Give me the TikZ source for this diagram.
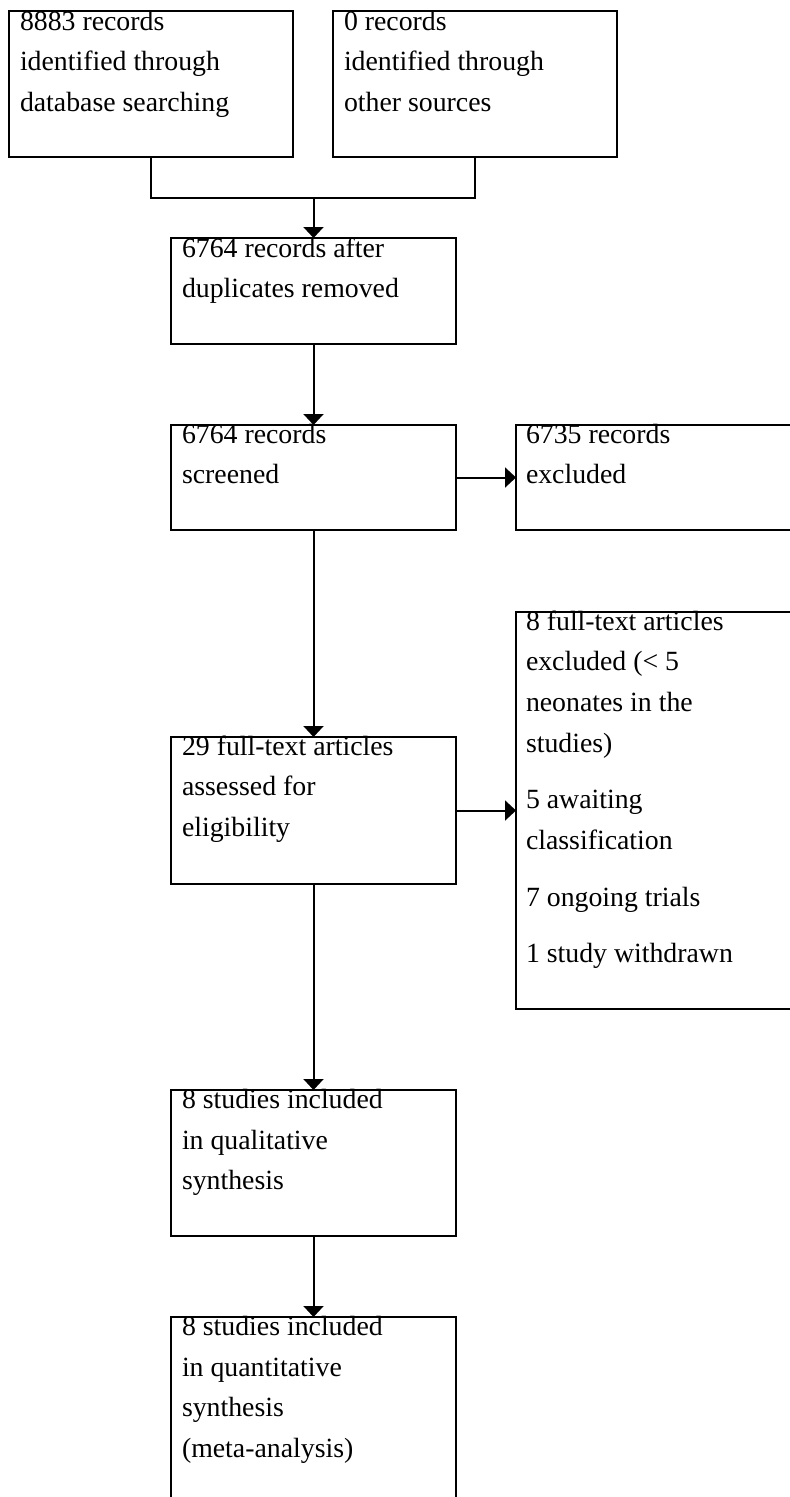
\documentclass[tikz,border=0pt]{standalone}
\usepackage{fontspec}
\setmainfont{Liberation Serif}
\usetikzlibrary{arrows.meta}
\tikzset{
  box/.style={draw, line width=1.6pt, inner sep=0pt, outer sep=0pt, rectangle},
  txt/.style={anchor=base west, inner sep=0pt, outer sep=0pt, font=\fontsize{27.8}{40.7}\selectfont},
  conn/.style={line width=2pt},
  arr/.style={line width=2pt, -{Triangle[length=11pt,width=20pt]}}
}
\newcommand{\lines}[1]{\begin{tabular}[t]{@{}l@{}}#1\end{tabular}}
\begin{document}
\begin{tikzpicture}[x=1pt,y=-1pt]
\useasboundingbox (0,0) rectangle (790,1497);
\clip (0,0) rectangle (790,1497);
% boxes
\node[box, minimum width=284pt, minimum height=146pt] (a) at (151,84) {};
\node[box, minimum width=284pt, minimum height=146pt] (b) at (475,84) {};
\node[box, minimum width=285pt, minimum height=106pt] (c) at (313.5,291) {};
\node[box, minimum width=285pt, minimum height=105pt] (d) at (313.5,477.5) {};
\node[box, minimum width=314pt, minimum height=105pt] (e) at (673,477.5) {};
\node[box, minimum width=285pt, minimum height=147pt] (f) at (313.5,810.5) {};
\node[box, minimum width=314pt, minimum height=397pt] (g) at (673,810.5) {};
\node[box, minimum width=285pt, minimum height=146pt] (h) at (313.5,1163) {};
\node[box, minimum width=285pt, minimum height=213pt] (i) at (313.5,1423.5) {};
% texts
\node[txt] (ta) at ([shift={(11,19)}]a.north west) {\lines{8883 records\\identified through\\database searching}};
\node[txt] (tb) at ([shift={(11,19)}]b.north west) {\lines{0 records\\identified through\\other sources}};
\node[txt] (tc) at ([shift={(11,19)}]c.north west) {\lines{6764 records after\\duplicates removed}};
\node[txt] (td) at ([shift={(11,18)}]d.north west) {\lines{6764 records\\screened}};
\node[txt] (te) at ([shift={(10,18)}]e.north west) {\lines{6735 records\\excluded}};
\node[txt] (tf) at ([shift={(11,18)}]f.north west) {\lines{29 full-text articles\\assessed for\\eligibility}};
\node[txt] (tg) at ([shift={(10,18)}]g.north west) {\lines{8 full-text articles\\excluded (< 5\\neonates in the\\studies)\\[16pt]5 awaiting\\classification\\[16pt]7 ongoing trials\\[16pt]1 study withdrawn}};
\node[txt] (th) at ([shift={(11,18.5)}]h.north west) {\lines{8 studies included\\in qualitative\\synthesis}};
\node[txt] (ti) at ([shift={(11,18.5)}]i.north west) {\lines{8 studies included\\in quantitative\\synthesis\\(meta-analysis)}};
% connectors
\coordinate (m) at (313.5,198);
\draw[conn] (a.south) |- (m) -| (b.south);
\draw[arr] (m) -- (c.north);
\draw[arr] (c.south) -- (d.north);
\draw[arr] (d.east) -- (e.west);
\draw[arr] (d.south) -- (f.north);
\draw[arr] (f.east) -- (g.west);
\draw[arr] (f.south) -- (h.north);
\draw[arr] (h.south) -- (i.north);
\end{tikzpicture}
\end{document}
